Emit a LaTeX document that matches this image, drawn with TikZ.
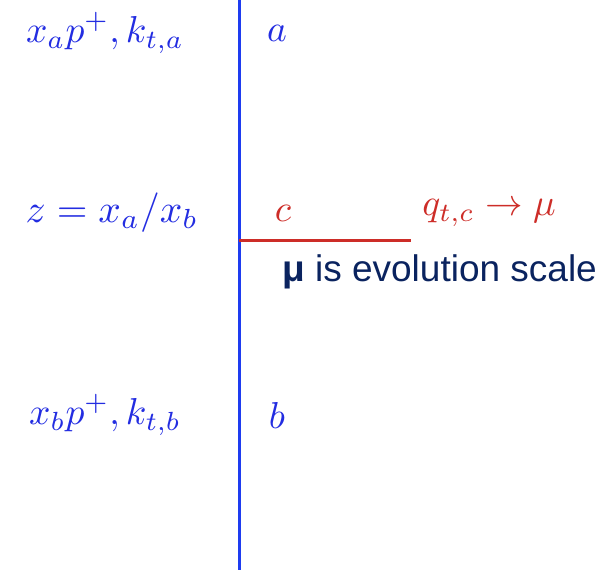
\documentclass[tikz,border=0pt]{standalone}
\usepackage{fontspec}
\newfontfamily\arial{Liberation Sans}
\definecolor{mblue}{RGB}{35,45,225}
\definecolor{lblue}{RGB}{30,60,240}
\definecolor{mred}{RGB}{205,45,40}
\definecolor{navy}{RGB}{10,35,95}
\newcommand{\bigmath}[2][3.75]{\scalebox{#1}{$#2$}}
\begin{document}
\begin{tikzpicture}[x=1pt,y=-1pt,
  bm/.style={text=mblue,inner sep=0pt},
  rm/.style={text=mred,inner sep=0pt}]
\useasboundingbox (0,0) rectangle (604,570);
\coordinate (top) at (239,0);
\coordinate (bot) at (239,570);
\coordinate (junc) at (239,240);
\coordinate (cend) at (411,240);
\draw[lblue,line width=3pt] (top) -- (bot);
\draw[mred,line width=3pt] (junc) -- (cend);
\node[bm] (la) at (105,33) {\bigmath{x_ap^+, k_{t,a}}};
\node[bm] (a) at (277,33) {\bigmath{a}};
\node[bm] (lz) at (112,213) {\bigmath[3.95]{z=x_a/x_b}};
\node[rm] (c) at (283,213) {\bigmath{c}};
\node[rm] (q) at (489,213) {\bigmath{q_{t,c}\rightarrow\mu}};
\node[text=navy,font=\fontsize{37}{42}\arial,inner sep=0pt,anchor=west] (mu) at (282,272) {\textbf{μ} is evolution scale};
\node[bm] (lb) at (105,415) {\bigmath{x_bp^+, k_{t,b}}};
\node[bm] (b) at (277,415) {\bigmath{b}};
\end{tikzpicture}
\end{document}
